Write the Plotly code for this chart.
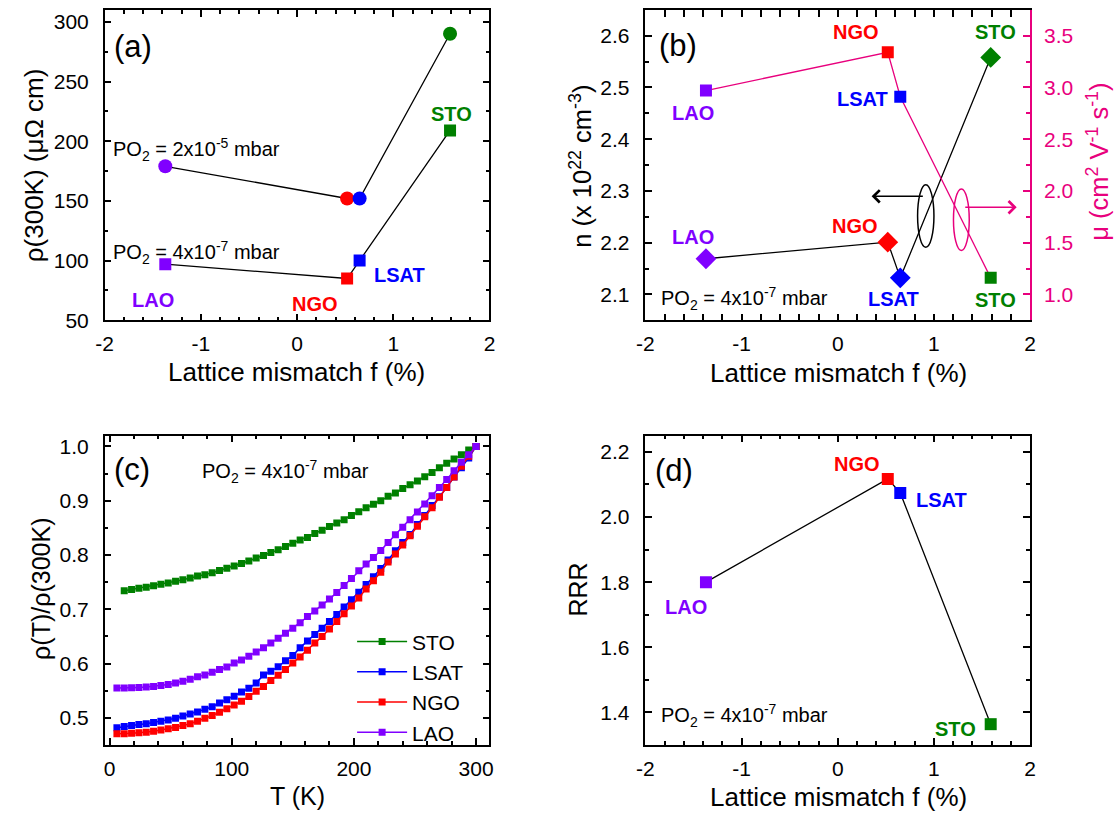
import plotly.graph_objects as go

W, H = 1120, 826
FONT = "Arial, Liberation Sans, sans-serif"

# ---------------- data ----------------
substrates = ["LAO", "NGO", "LSAT", "STO"]
mismatch = [-1.37, 0.52, 0.65, 1.59]
sub_colors = ["#8000FF", "#FF0000", "#0000FF", "#008000"]
pink = "#E8007D"

rho300_po2_high = [179, 152, 152, 290]   # PO2 = 2x10^-5 mbar
rho300_po2_low = [97, 85, 100, 209]      # PO2 = 4x10^-7 mbar

n_carrier = [2.169, 2.201, 2.132, 2.558]  # x10^22 cm^-3
mobility = [2.97, 3.34, 2.91, 1.16]       # cm^2 V^-1 s^-1

rrr = [1.80, 2.117, 2.074, 1.364]

T_sto = [12, 18, 24, 30, 36, 42, 48, 54, 60, 66, 72, 78, 84, 90, 96, 102, 108, 114, 120, 126,
         132, 138, 144, 150, 156, 162, 168, 174, 180, 186, 192, 198, 204, 210, 216, 222, 228,
         234, 240, 246, 252, 258, 264, 270, 276, 282, 288, 294, 300]
rho_sto = [0.734, 0.7364, 0.7388, 0.7406, 0.7436, 0.746, 0.7485, 0.7515, 0.7545, 0.7576,
           0.7612, 0.7636, 0.7672, 0.7715, 0.7757, 0.780, 0.7842, 0.789, 0.7944, 0.7993,
           0.8047, 0.8095, 0.8156, 0.8216, 0.8277, 0.8325, 0.8398, 0.8458, 0.8525, 0.8591,
           0.8652, 0.873, 0.8797, 0.887, 0.8936, 0.9002, 0.9081, 0.9141, 0.9226, 0.9293,
           0.9365, 0.9444, 0.9522, 0.9607, 0.9692, 0.977, 0.9849, 0.9933, 1.0]

T_film = [6, 12, 18, 24, 30, 36, 42, 48, 54, 60, 66, 72, 78, 84, 90, 96, 102, 108, 114, 120,
          126, 132, 138, 144, 150, 156, 162, 168, 174, 180, 186, 192, 198, 204, 210, 216, 222,
          228, 234, 240, 246, 252, 258, 264, 270, 276, 282, 288, 294, 300]
rho_lsat = [0.4818, 0.4843, 0.4861, 0.4879, 0.4891, 0.4915, 0.4939, 0.4963, 0.4994, 0.5036,
            0.5072, 0.5109, 0.5157, 0.5205, 0.5272, 0.5332, 0.5399, 0.5477, 0.5544, 0.5641,
            0.5792, 0.5858, 0.5943, 0.6052, 0.6149, 0.6294, 0.6415, 0.6536, 0.665, 0.6777,
            0.6904, 0.7043, 0.7176, 0.7315, 0.7455, 0.76, 0.7751, 0.7908, 0.8077, 0.8229,
            0.838, 0.856, 0.873, 0.8912, 0.9075, 0.9244, 0.9438, 0.9607, 0.9788, 1.0]
rho_ngo = [0.471, 0.471, 0.4716, 0.4728, 0.4734, 0.4752, 0.4776, 0.48, 0.4824, 0.4861,
           0.4891, 0.4939, 0.4994, 0.5042, 0.5103, 0.5169, 0.5236, 0.5308, 0.5393, 0.549,
           0.558, 0.5689, 0.5786, 0.5889, 0.601, 0.612, 0.6245, 0.6378, 0.6499, 0.6638,
           0.6777, 0.6916, 0.7062, 0.7207, 0.7376, 0.7527, 0.7684, 0.787, 0.8017, 0.8186,
           0.8356, 0.8531, 0.8706, 0.887, 0.9063, 0.9244, 0.9438, 0.9637, 0.9819, 1.0]
rho_lao = [0.555, 0.555, 0.5556, 0.5562, 0.5568, 0.558, 0.5598, 0.5617, 0.5641, 0.5677,
           0.5713, 0.5756, 0.5792, 0.584, 0.5889, 0.5937, 0.601, 0.6064, 0.6137, 0.6215,
           0.6294, 0.6378, 0.6469, 0.656, 0.665, 0.6753, 0.6868, 0.6971, 0.708, 0.7188,
           0.7309, 0.7437, 0.7569, 0.7708, 0.7836, 0.7956, 0.8083, 0.8229, 0.8374, 0.851,
           0.8652, 0.8791, 0.8942, 0.9093, 0.9244, 0.9392, 0.9553, 0.971, 0.9849, 1.0]

mismatch_ticks = [-2, -1, 0, 1, 2]
mismatch_ticktext = ["-2", "-1", "0", "1", "2"]

# ---------------- figure ----------------
fig = go.Figure()

# (a)
fig.add_trace(go.Scatter(x=mismatch, y=rho300_po2_high, mode="lines+markers", xaxis="x", yaxis="y",
                         line=dict(color="black", width=1.3),
                         marker=dict(symbol="circle", size=14, color=sub_colors), showlegend=False))
fig.add_trace(go.Scatter(x=mismatch, y=rho300_po2_low, mode="lines+markers", xaxis="x", yaxis="y",
                         line=dict(color="black", width=1.3),
                         marker=dict(symbol="square", size=12, color=sub_colors), showlegend=False))

# (b)
fig.add_trace(go.Scatter(x=mismatch, y=n_carrier, mode="lines+markers", xaxis="x2", yaxis="y2",
                         line=dict(color="black", width=1.3),
                         marker=dict(symbol="diamond", size=16, color=sub_colors), showlegend=False))
fig.add_trace(go.Scatter(x=mismatch, y=mobility, mode="lines+markers", xaxis="x2", yaxis="y3",
                         line=dict(color=pink, width=1.3),
                         marker=dict(symbol="square", size=12, color=sub_colors), showlegend=False))

# (c)
for name, xs, ys, col in [("STO", T_sto, rho_sto, "#008000"),
                          ("LSAT", T_film, rho_lsat, "#0000FF"),
                          ("NGO", T_film, rho_ngo, "#FF0000"),
                          ("LAO", T_film, rho_lao, "#8000FF")]:
    fig.add_trace(go.Scatter(x=xs, y=ys, mode="lines+markers", name=name, xaxis="x3", yaxis="y4",
                             line=dict(color=col, width=1.5),
                             marker=dict(symbol="square", size=7, color=col), showlegend=True))

# (d)
fig.add_trace(go.Scatter(x=mismatch, y=rrr, mode="lines+markers", xaxis="x4", yaxis="y5",
                         line=dict(color="black", width=1.3),
                         marker=dict(symbol="square", size=12, color=sub_colors), showlegend=False))


def axis(**kw):
    d = dict(showline=True, linecolor="black", linewidth=1.5, ticks="inside", ticklen=7,
             tickwidth=1.5, tickcolor="black", showgrid=False, zeroline=False,
             tickfont=dict(size=21, color="black", family=FONT), mirror="allticks",
             ticklabelstandoff=4)
    minor = kw.pop("minor_dtick", None)
    if minor is not None:
        d["minor"] = dict(ticks="inside", ticklen=4, tickwidth=1.5, tickcolor=kw.get("tickcolor", "black"),
                          dtick=minor, showgrid=False)
    d.update(kw)
    return d


def mis_axis(**kw):
    return axis(range=[-2, 2], tickmode="array", tickvals=mismatch_ticks, ticktext=mismatch_ticktext,
                minor_dtick=0.2, **kw)


xa = [97 / W, 487 / W]
xb = [645 / W, 1035 / W]
ytop = [1 - 324 / H, 1 - 9 / H]
ybot = [1 - 755 / H, 1 - 441 / H]

fig.update_layout(
    width=W, height=H, margin=dict(l=0, r=0, t=0, b=0),
    paper_bgcolor="white", plot_bgcolor="white",
    font=dict(family=FONT, color="black"),
    xaxis=mis_axis(domain=xa, anchor="y"),
    yaxis=axis(domain=ytop, range=[50, 310], dtick=50, tick0=50, minor_dtick=25, anchor="x",
               ticklabelstandoff=10),
    xaxis2=mis_axis(domain=xb, anchor="y2"),
    yaxis2=axis(domain=ytop, range=[2.05, 2.65], dtick=0.1, tick0=2.1, minor_dtick=0.05,
                tickformat=".1f", anchor="x2", mirror=False, ticklabelstandoff=10),
    yaxis3=axis(domain=ytop, range=[0.75, 3.75], dtick=0.5, tick0=1.0, minor_dtick=0.25,
                tickformat=".1f", anchor="x2", overlaying="y2", side="right", mirror=False,
                linecolor=pink, tickcolor=pink, tickfont=dict(size=21, color=pink, family=FONT),
                ticklabelstandoff=8),
    xaxis3=axis(domain=xa, range=[-4, 311], dtick=100, minor_dtick=20, anchor="y4"),
    yaxis4=axis(domain=ybot, range=[0.45, 1.02], dtick=0.1, tick0=0.5, minor_dtick=0.05,
                tickformat=".1f", anchor="x3", ticklabelstandoff=10),
    xaxis4=mis_axis(domain=xb, anchor="y5"),
    yaxis5=axis(domain=ybot, range=[1.3, 2.25], dtick=0.2, tick0=1.4, minor_dtick=0.1,
                tickformat=".1f", anchor="x4", ticklabelstandoff=10),
    legend=dict(x=0.3105, y=0.238, xanchor="left", yanchor="top", bgcolor="rgba(0,0,0,0)",
                font=dict(size=21, family=FONT), tracegroupgap=0, itemwidth=50),
)

ann = []


def lab(text, x, y, xref, yref, color="black", size=20, bold=False, xanchor="center"):
    t = f"<b>{text}</b>" if bold else text
    ann.append(dict(text=t, x=x, y=y, xref=xref, yref=yref, showarrow=False, xanchor=xanchor,
                    yanchor="middle", font=dict(size=size, color=color, family=FONT)))


# axis titles (paper coords)
def title(text, px, py, angle=0, color="black", size=26):
    ann.append(dict(text=text, x=px / W, y=1 - py / H, xref="paper", yref="paper", showarrow=False,
                    textangle=angle, xanchor="center", yanchor="middle",
                    font=dict(size=size, color=color, family=FONT)))


title("Lattice mismatch f (%)", 291, 376)
title("Lattice mismatch f (%)", 841, 377)
title("T (K)", 292, 807, size=25)
title("Lattice mismatch f (%)", 841, 808)
title("ρ(300K) (μΩ cm)", 25, 167, angle=-90)
title("n (x 10<sup>22</sup> cm<sup>-3</sup>)", 579, 168, angle=-90, size=25.5)
title("μ (cm<sup>2</sup> V<sup>-1</sup> s<sup>-1</sup>)", 1103, 163, angle=-90, color=pink, size=25.5)
title("ρ(T)/ρ(300K)", 33, 597, angle=-90, size=25)
title("RRR", 577, 597, angle=-90, size=25)

# panel (a)
lab("(a)", -1.92, 279, "x", "y", size=31, xanchor="left")
lab("PO<sub>2</sub> = 2x10<sup>-5</sup> mbar", -1.93, 193, "x", "y", xanchor="left")
lab("PO<sub>2</sub> = 4x10<sup>-7</sup> mbar", -1.93, 107, "x", "y", xanchor="left")
lab("STO", 1.60, 223, "x", "y", color="#008000", bold=True)
lab("LSAT", 1.06, 88, "x", "y", color="#0000FF", bold=True)
lab("NGO", 0.19, 64, "x", "y", color="#FF0000", bold=True)
lab("LAO", -1.50, 67, "x", "y", color="#8000FF", bold=True)

# panel (b)
lab("(b)", -1.88, 2.582, "x2", "y2", size=31, xanchor="left")
lab("NGO", 0.19, 2.608, "x2", "y2", color="#FF0000", bold=True)
lab("STO", 1.645, 2.608, "x2", "y2", color="#008000", bold=True)
lab("LSAT", 0.255, 2.477, "x2", "y2", color="#0000FF", bold=True)
lab("LAO", -1.505, 2.451, "x2", "y2", color="#8000FF", bold=True)
lab("NGO", 0.18, 2.232, "x2", "y2", color="#FF0000", bold=True)
lab("LAO", -1.505, 2.211, "x2", "y2", color="#8000FF", bold=True)
lab("LSAT", 0.577, 2.092, "x2", "y2", color="#0000FF", bold=True)
lab("STO", 1.64, 2.089, "x2", "y2", color="#008000", bold=True)
lab("PO<sub>2</sub> = 4x10<sup>-7</sup> mbar", -1.86, 2.092, "x2", "y2", xanchor="left")

# arrows in (b)
ann.append(dict(x=0.352, y=2.2896, ax=0.90, ay=2.2896, xref="x2", yref="y2", axref="x2", ayref="y2",
                text="", showarrow=True, arrowhead=4, arrowsize=1.6, arrowwidth=1.5, arrowcolor="black"))
ann.append(dict(x=1.86, y=2.2686, ax=1.31, ay=2.2686, xref="x2", yref="y2", axref="x2", ayref="y2",
                text="", showarrow=True, arrowhead=4, arrowsize=1.6, arrowwidth=1.5, arrowcolor=pink))

# panel (c)
lab("(c)", 2, 0.958, "x3", "y4", size=31, xanchor="left")
lab("PO<sub>2</sub> = 4x10<sup>-7</sup> mbar", 74, 0.9546, "x3", "y4", xanchor="left")

# panel (d)
lab("(d)", -1.92, 2.142, "x4", "y5", size=31, xanchor="left")
lab("NGO", 0.20, 2.162, "x4", "y5", color="#FF0000", bold=True)
lab("LSAT", 1.083, 2.053, "x4", "y5", color="#0000FF", bold=True)
lab("LAO", -1.578, 1.725, "x4", "y5", color="#8000FF", bold=True)
lab("STO", 1.219, 1.35, "x4", "y5", color="#008000", bold=True)
lab("PO<sub>2</sub> = 4x10<sup>-7</sup> mbar", -1.86, 1.39, "x4", "y5", xanchor="left")

fig.update_layout(annotations=ann)

fig.update_layout(shapes=[
    dict(type="circle", xref="x2", yref="y2", x0=0.83, x1=1.0, y0=2.191, y1=2.312,
         line=dict(color="black", width=1.5)),
    dict(type="circle", xref="x2", yref="y2", x0=1.203, x1=1.367, y0=2.185, y1=2.304,
         line=dict(color=pink, width=1.5)),
])

fig.write_html("out.html")
